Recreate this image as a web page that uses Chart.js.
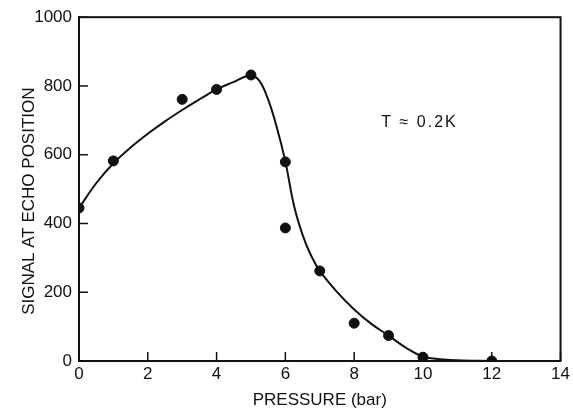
<!DOCTYPE html>
<html>
<head>
<meta charset="utf-8">
<script src="https://cdn.jsdelivr.net/npm/chart.js@4/dist/chart.umd.min.js"></script>
<style>
  html, body { margin: 0; padding: 0; background: #fff; }
  #wrap { width: 573px; height: 409px; }
</style>
</head>
<body>
<div id="wrap"><canvas id="c" width="573" height="409"></canvas></div>
<script>
// Measured points
const pointPressure = [0, 1, 3, 4, 5, 6, 6, 7, 8, 9, 10, 12];
const pointSignal   = [445, 582, 761, 790, 832, 579, 387, 262, 110, 74, 11, 0];

// Smooth guide curve
const curvePressure = [0, 0.5, 1, 1.5, 2, 2.5, 3, 3.5, 4, 4.5, 4.8, 5, 5.25, 5.5, 5.75, 6, 6.25, 6.5, 6.75, 7, 7.5, 8, 8.5, 9, 9.5, 10, 10.5, 11, 12];
const curveSignal   = [445, 517, 575, 621, 661, 697, 730, 761, 790, 812, 826, 831, 814, 760, 680, 580, 452, 367, 306, 262, 201, 150, 108, 74, 39, 13, 5, 2, 0];

const xTicks = [0, 2, 4, 6, 8, 10, 12, 14];
const yTicks = [0, 200, 400, 600, 800, 1000];

const xTitle = 'PRESSURE (bar)';
const yTitle = 'SIGNAL AT ECHO POSITION';
const noteText = 'T \u2248 0.2K';
const notePos = { x: 9.9, y: 692 };

const FONT = '"Liberation Sans", Arial, sans-serif';
const INK = '#111';

const framePlugin = {
  id: 'frame',
  afterDraw(chart) {
    const { ctx, chartArea: a, scales } = chart;
    ctx.save();
    ctx.strokeStyle = INK;
    ctx.lineWidth = 2;
    ctx.strokeRect(a.left, a.top, a.right - a.left, a.bottom - a.top);
    ctx.lineWidth = 1.5;
    // inward ticks
    yTicks.forEach(v => {
      const py = scales.y.getPixelForValue(v);
      ctx.beginPath(); ctx.moveTo(a.left, py); ctx.lineTo(a.left + 9, py); ctx.stroke();
    });
    xTicks.forEach(v => {
      const px = scales.x.getPixelForValue(v);
      ctx.beginPath(); ctx.moveTo(px, a.bottom); ctx.lineTo(px, a.bottom - 9); ctx.stroke();
    });
    ctx.fillStyle = INK;
    ctx.textAlign = 'center';
    ctx.textBaseline = 'middle';
    // y-axis title (rotated), placed in the axis box
    ctx.save();
    ctx.font = '17px ' + FONT;
    ctx.translate(29, a.top + (a.bottom - a.top) * 0.535);
    ctx.rotate(-Math.PI / 2);
    ctx.fillText(yTitle, 0, 0);
    ctx.restore();
    // annotation
    ctx.font = '16px ' + FONT;
    ctx.letterSpacing = '2px';
    ctx.fillText(noteText, scales.x.getPixelForValue(notePos.x), scales.y.getPixelForValue(notePos.y));
    ctx.restore();
  }
};

new Chart(document.getElementById('c'), {
  data: {
    datasets: [
      {
        type: 'scatter',
        data: pointPressure.map((x, i) => ({ x, y: pointSignal[i] })),
        backgroundColor: INK,
        borderColor: INK,
        pointRadius: 5,
        pointHoverRadius: 5,
        order: 0
      },
      {
        type: 'line',
        data: curvePressure.map((x, i) => ({ x, y: curveSignal[i] })),
        borderColor: INK,
        borderWidth: 2,
        pointRadius: 0,
        fill: false,
        tension: 0.4,
        order: 1
      }
    ]
  },
  options: {
    responsive: false,
    animation: false,
    events: [],
    layout: { padding: { left: 0, top: 17, right: 10, bottom: 0 } },
    plugins: { legend: { display: false }, tooltip: { enabled: false } },
    scales: {
      x: {
        type: 'linear',
        min: 0, max: 14,
        afterBuildTicks(s) { s.ticks = xTicks.map(v => ({ value: v })); },
        afterFit(s) { s.height = 48; },
        grid: { display: false, drawTicks: false },
        border: { display: true, color: INK, width: 2 },
        ticks: { color: INK, font: { family: FONT, size: 17 }, padding: 3, maxRotation: 0, callback: v => String(v) },
        title: { display: true, text: xTitle, color: INK, font: { family: FONT, size: 17, lineHeight: 1.0 }, padding: { top: 6, bottom: 0 } }
      },
      y: {
        type: 'linear',
        min: 0, max: 1000,
        afterBuildTicks(s) { s.ticks = yTicks.map(v => ({ value: v })); },
        afterFit(s) { s.width = 79; },
        grid: { display: false, drawTicks: false },
        border: { display: true, color: INK, width: 2 },
        ticks: { color: INK, font: { family: FONT, size: 17 }, padding: 7, callback: v => String(v) },
        title: { display: false, text: yTitle }
      }
    }
  },
  plugins: [framePlugin]
});
</script>
</body>
</html>
